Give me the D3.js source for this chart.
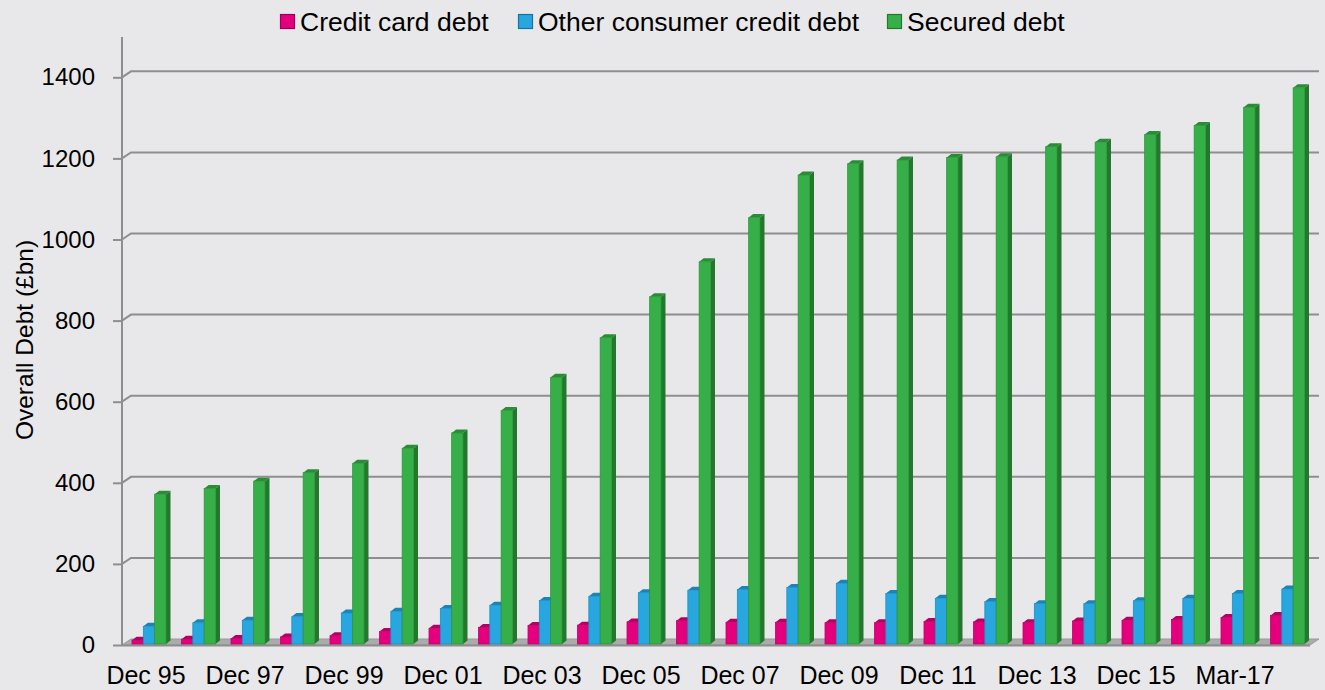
<!DOCTYPE html>
<html>
<head>
<meta charset="utf-8">
<script src="https://cdn.jsdelivr.net/npm/d3@7"></script>
<style>
  html, body { margin: 0; padding: 0; background: #E8E8EA; }
  svg { display: block; }
  text { font-family: "Liberation Sans", Arial, sans-serif; fill: #000; }
</style>
</head>
<body>
<svg id="chart" width="1325" height="690"></svg>
<script>
// ---- data ----
const categories = ["Dec 95","Dec 96","Dec 97","Dec 98","Dec 99","Dec 00","Dec 01","Dec 02",
  "Dec 03","Dec 04","Dec 05","Dec 06","Dec 07","Dec 08","Dec 09","Dec 10","Dec 11","Dec 12",
  "Dec 13","Dec 14","Dec 15","Dec 16","Mar-17","Jun-17"];
const creditCardDebt = [12,14,16,20,23,33,41,43,48,49,57,60,56,56,55,55,58,57,55,59,61,63,68,73];
const otherConsumerDebt = [46,55,61,70,79,83,90,98,110,120,129,135,137,142,152,127,115,107,102,102,109,115,127,138];
const securedDebt = [372,386,404,425,448,485,523,578,660,758,859,945,1054,1159,1187,1196,1202,1204,1229,1240,1259,1281,1326,1374];
const seriesNames = ["Credit card debt","Other consumer credit debt","Secured debt"];
const yTicks = [0,200,400,600,800,1000,1200,1400];
const xTickLabels = categories.filter((d, i) => i % 2 === 0);

// ---- styles ----
const faceColors = [
  {front:"#E4007C", top:"#B50062", side:"#9E0056", stroke:"#C2006A"},
  {front:"#27A6DF", top:"#1B84B6", side:"#1873A0", stroke:"#1E8FC4"},
  {front:"#37AF48", top:"#2A8C37", side:"#22782D", stroke:"#2C963A"}
];
const legendX = [280, 518, 887];

const svg = d3.select("#chart");
const W = 1325, H = 690;

// background
svg.append("rect").attr("width", W).attr("height", H).attr("fill", "#E8E8EA");

const axisX = 122;
const y = d3.scaleLinear().domain([0, 1400]).range([645, 77.3]);
const x0 = d3.scaleBand().domain(categories).range([124.25, 1312.25])
  .paddingInner(0.313).paddingOuter(0.1566);
const x1 = d3.scaleBand().domain(seriesNames).range([0, x0.bandwidth()]);

const WDX = 9, WDY = -6;   // wall depth offset
const BDX = 4.5, BDY = -3.5; // bar depth offset
const gridColor = "#8E8E8E";

// floor
const floorRight = 1310;
svg.append("polygon")
  .attr("points", [[axisX, y(0)], [floorRight, y(0)], [floorRight + WDX, y(0) + WDY], [axisX + WDX, y(0) + WDY]].map(p => p.join(",")).join(" "))
  .attr("fill", "#ABABAB").attr("stroke", "#9A9A9A").attr("stroke-width", 1);
svg.append("line").attr("x1", axisX).attr("x2", floorRight).attr("y1", y(0) + 0.5).attr("y2", y(0) + 0.5)
  .attr("stroke", gridColor).attr("stroke-width", 2);

// gridlines on back wall (skip 0, which is the floor)
const grid = svg.append("g");
yTicks.filter(t => t > 0).forEach(t => {
  grid.append("path")
    .attr("d", `M${axisX},${y(t)} L${axisX + WDX},${y(t) + WDY} L${floorRight + WDX},${y(t) + WDY}`)
    .attr("fill", "none").attr("stroke", gridColor).attr("stroke-width", 2);
});

// vertical axis line
svg.append("line").attr("x1", axisX).attr("x2", axisX).attr("y1", 37).attr("y2", y(0) + 1)
  .attr("stroke", gridColor).attr("stroke-width", 2);

// y axis
const yAxis = svg.append("g").attr("transform", `translate(${axisX},0)`)
  .call(d3.axisLeft(y).tickValues(yTicks).tickSize(9).tickPadding(18).tickFormat(d3.format("d")));
yAxis.select(".domain").remove();
yAxis.selectAll(".tick line").attr("stroke", gridColor).attr("stroke-width", 2);
yAxis.selectAll(".tick text").style("font-size", "24px").attr("fill", "#000")
  .style("font-family", '"Liberation Sans", Arial, sans-serif');

// y title
svg.append("text")
  .attr("transform", "translate(33,340) rotate(-90)")
  .attr("text-anchor", "middle")
  .style("font-size", "24.5px")
  .text("Overall Debt (£bn)");

// bars
const seriesData = [creditCardDebt, otherConsumerDebt, securedDebt];
const bars = svg.append("g");
categories.forEach((cat, i) => {
  const g = bars.append("g");
  seriesData.forEach((vals, s) => {
    const v = vals[i];
    const bx = x0(cat) + x1(seriesNames[s]);
    const bw = x1.bandwidth();
    const yt = y(v), yb = y(0) - 1;
    const c = faceColors[s];
    // side face
    g.append("polygon")
      .attr("points", [[bx + bw, yt], [bx + bw + BDX, yt + BDY], [bx + bw + BDX, yb + BDY], [bx + bw, yb]].map(p => p.join(",")).join(" "))
      .attr("fill", c.side);
    // top face
    g.append("polygon")
      .attr("points", [[bx, yt], [bx + bw, yt], [bx + bw + BDX, yt + BDY], [bx + BDX, yt + BDY]].map(p => p.join(",")).join(" "))
      .attr("fill", c.top);
    // front face
    g.append("rect")
      .attr("x", bx).attr("y", yt).attr("width", bw).attr("height", yb - yt)
      .attr("fill", c.front).attr("stroke", c.stroke).attr("stroke-width", 0.8);
  });
});

// x axis labels
const xAxis = svg.append("g").attr("transform", `translate(0,${y(0)})`)
  .call(d3.axisBottom(x0).tickValues(xTickLabels).tickSize(0).tickPadding(21.5));
xAxis.select(".domain").remove();
xAxis.selectAll(".tick text").style("font-size", "25px").attr("fill", "#000").attr("dx", -3)
  .style("font-family", '"Liberation Sans", Arial, sans-serif');

// legend
const legend = svg.append("g");
seriesNames.forEach((name, s) => {
  const lx = legendX[s];
  legend.append("rect").attr("x", lx + 0.5).attr("y", 14.5).attr("width", 14).attr("height", 14)
    .attr("fill", faceColors[s].front).attr("stroke", faceColors[s].side).attr("stroke-width", 1.2);
  legend.append("text").attr("x", lx + 20).attr("y", 31)
    .style("font-size", "26.5px").text(name);
});
</script>
</body>
</html>
